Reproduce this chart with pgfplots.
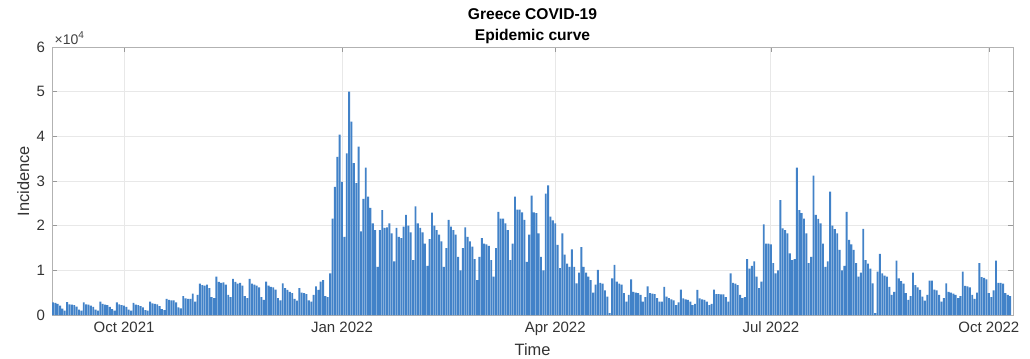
\documentclass[border=0pt]{standalone}
\usepackage{fontspec}
\setmainfont{Liberation Sans}
\usepackage{pgfplots}
\pgfplotsset{compat=1.18}
\definecolor{barblue}{RGB}{66,130,200}
\begin{document}
\begin{tikzpicture}
\pgfplotsset{every axis title shift=0pt}
\begin{axis}[name=ax,
  scale only axis, width=480.5pt, height=134pt,
  xmin=-0.4, xmax=405.2, ymin=0, ymax=60000,
  ybar, bar width=0.8, bar shift=0pt,
  xtick={30,122,212,303,395},
  xticklabels={Oct 2021,Jan 2022,Apr 2022,Jul 2022,Oct 2022},
  ytick={0,10000,20000,30000,40000,50000,60000},
  yticklabels={0,1,2,3,4,5,6},
  scaled y ticks=false,
  grid=major, major grid style={black!9, line width=0.4pt},
  axis line style={black!30}, tick style={black!40}, tick align=inside,
  major tick length=2.5pt,
  ticklabel style={font=\fontsize{7.5}{9}\selectfont, text=black!80},
  /pgf/number format/assume math mode=true,
  xlabel={Time}, ylabel={Incidence},
  x label style={at={([yshift=-20pt]axis description cs:0.5,0)}, anchor=base, font=\fontsize{8.2}{10}\selectfont, text=black!80},
  y label style={at={([xshift=-11.5pt]axis description cs:0,0.5)}, anchor=base, font=\fontsize{8.2}{10}\selectfont, text=black!80},
  title={Greece COVID-19\\Epidemic curve},
  title style={at={(axis description cs:0.5,1)}, anchor=south, inner sep=0pt, yshift=1.4pt, align=center, font=\bfseries\fontsize{7.8}{10.6}\selectfont},
]
\addplot[fill=barblue, draw=none] coordinates {
(0,2800)(1,2700)(2,2500)(3,2100)(4,1400)(5,1000)
(6,2900)(7,2400)(8,2300)(9,2200)(10,1900)(11,1200)(12,1000)
(13,2800)(14,2400)(15,2300)(16,2100)(17,1800)(18,1200)(19,1000)
(20,3000)(21,2500)(22,2300)(23,2200)(24,1800)(25,1300)(26,1000)
(27,2800)(28,2400)(29,2200)(30,2100)(31,1800)(32,1200)(33,1000)
(34,2700)(35,2300)(36,2200)(37,2000)(38,1700)(39,1100)(40,1000)
(41,3000)(42,2600)(43,2500)(44,2400)(45,2000)(46,1300)(47,1100)
(48,3600)(49,3400)(50,3300)(51,3300)(52,2800)(53,1700)(54,1500)
(55,4200)(56,3700)(57,3600)(58,3600)(59,4800)(60,3000)(61,4500)
(62,7000)(63,6700)(64,6600)(65,6800)(66,6000)(67,4000)(68,3800)
(69,8600)(70,7400)(71,7200)(72,7300)(73,6800)(74,4500)(75,4000)
(76,8100)(77,7400)(78,7000)(79,7200)(80,6600)(81,4200)(82,3800)
(83,8100)(84,7000)(85,6800)(86,6600)(87,6200)(88,4000)(89,3400)
(90,7500)(91,6600)(92,6300)(93,6200)(94,5700)(95,3800)(96,3300)
(97,7100)(98,6000)(99,5600)(100,5200)(101,4900)(102,3600)(103,3200)
(104,6000)(105,5000)(106,4900)(107,4700)(108,3300)(109,3000)(110,4500)
(111,6400)(112,5600)(113,7500)(114,7800)(115,4200)(116,4000)(117,9300)
(118,21600)(119,28700)(120,35400)(121,40400)(122,29800)(123,17500)(124,36200)
(125,50000)(126,43300)(127,34000)(128,29500)(129,37700)(130,18700)(131,26000)
(132,33000)(133,26500)(134,24000)(135,20500)(136,19000)(137,10800)(138,19000)
(139,23500)(140,19500)(141,19600)(142,20500)(143,18300)(144,12000)(145,19500)
(146,17500)(147,17200)(148,19800)(149,22400)(150,20000)(151,18500)(152,12300)
(153,24300)(154,20500)(155,19500)(156,18500)(157,16000)(158,11000)(159,17000)
(160,22900)(161,20000)(162,19000)(163,18000)(164,16500)(165,10800)(166,15000)
(167,21300)(168,19800)(169,19000)(170,18000)(171,13000)(172,10000)(173,15000)
(174,19600)(175,17500)(176,16500)(177,15300)(178,12500)(179,7800)(180,13000)
(181,17200)(182,16000)(183,15800)(184,15500)(185,12300)(186,8600)(187,15000)
(188,23100)(189,21600)(190,21600)(191,20500)(192,19000)(193,12300)(194,16000)
(195,26500)(196,23600)(197,23600)(198,23000)(199,21300)(200,11900)(201,18000)
(202,26700)(203,23000)(204,22800)(205,18300)(206,13000)(207,10000)(208,27200)
(209,29000)(210,22000)(211,21200)(212,20500)(213,15700)(214,10500)(215,18300)
(216,13500)(217,11500)(218,10800)(219,14700)(220,10800)(221,7100)(222,9500)
(223,15200)(224,10800)(225,9500)(226,8600)(227,7800)(228,5000)(229,6800)
(230,10100)(231,7200)(232,7000)(233,5500)(234,4100)(235,400)(236,8200)
(237,11200)(238,7500)(239,7000)(240,6800)(241,4900)(242,3000)(243,4500)
(244,8000)(245,5200)(246,5000)(247,4900)(248,4500)(249,3000)(250,4000)
(251,6400)(252,4900)(253,4800)(254,4700)(255,3800)(256,3000)(257,3000)
(258,6300)(259,4100)(260,3800)(261,3500)(262,3300)(263,2200)(264,2800)
(265,5700)(266,3700)(267,3500)(268,3400)(269,3000)(270,2200)(271,2500)
(272,5600)(273,3700)(274,3500)(275,3400)(276,3000)(277,2200)(278,2500)
(279,5700)(280,4700)(281,4700)(282,4600)(283,4600)(284,4000)(285,3000)
(286,9300)(287,7200)(288,7000)(289,6700)(290,4500)(291,3800)(292,4000)
(293,12500)(294,10400)(295,11000)(296,12000)(297,8600)(298,6000)(299,7500)
(300,20300)(301,16000)(302,16000)(303,15800)(304,11600)(305,9300)(306,10000)
(307,25700)(308,19400)(309,19000)(310,18300)(311,13800)(312,12300)(313,12500)
(314,33000)(315,23500)(316,22800)(317,21600)(318,18300)(319,11600)(320,13000)
(321,31200)(322,22400)(323,21500)(324,20500)(325,16000)(326,10800)(327,12000)
(328,27600)(329,20000)(330,19200)(331,18300)(332,14600)(333,10000)(334,11000)
(335,23100)(336,16800)(337,15800)(338,14600)(339,11600)(340,8600)(341,9500)
(342,19300)(343,12300)(344,11500)(345,10400)(346,7100)(347,400)(348,9700)
(349,13700)(350,9300)(351,8800)(352,8600)(353,6300)(354,4500)(355,5200)
(356,12200)(357,8200)(358,7600)(359,7000)(360,4900)(361,3400)(362,4200)
(363,9500)(364,6700)(365,6200)(366,5600)(367,4100)(368,3200)(369,4500)
(370,7700)(371,7700)(372,5700)(373,5500)(374,4500)(375,3000)(376,3800)
(377,7100)(378,5200)(379,5000)(380,4800)(381,4500)(382,3800)(383,4200)
(384,9700)(385,6500)(386,6400)(387,6200)(388,4500)(389,3600)(390,5000)
(391,11600)(392,8500)(393,8300)(394,8000)(395,4900)(396,4000)(397,5500)
(398,12200)(399,7200)(400,7200)(401,7000)(402,4900)(403,4500)(404,4200)
};
\end{axis}
\node[anchor=south west, inner sep=0pt, yshift=1.2pt, font=\fontsize{7}{8}\selectfont, text=black!75] at (ax.north west) {\,×10\textsuperscript{4}};
\pgfresetboundingbox
\path[use as bounding box] ([xshift=-26pt,yshift=-21.5pt]ax.south west) rectangle ([xshift=8.5pt,yshift=23.5pt]ax.north east);
\end{tikzpicture}
\end{document}
